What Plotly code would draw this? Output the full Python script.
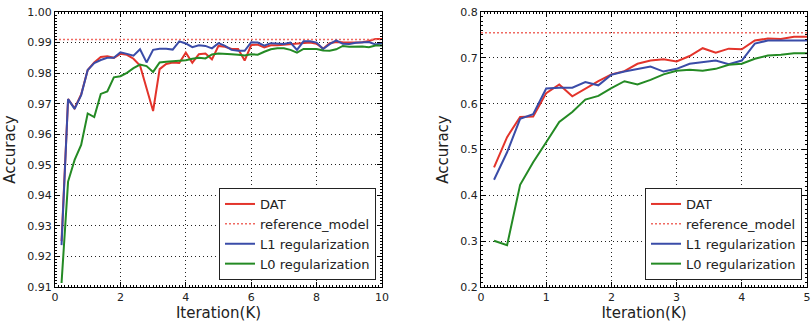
import plotly.graph_objects as go

# ---------------- data ----------------
iters_left = [round(0.2 * i, 1) for i in range(1, 51)]
dat_left = [0.925, 0.9715, 0.9685, 0.973, 0.981, 0.9835, 0.9853, 0.9855, 0.985, 0.9863,
            0.986, 0.9847, 0.9825, 0.9748, 0.9676, 0.9813, 0.983, 0.9835, 0.9833, 0.9867,
            0.9834, 0.9862, 0.9864, 0.9845, 0.9889, 0.9886, 0.9879, 0.9879, 0.9841, 0.9892,
            0.9893, 0.9884, 0.9891, 0.9891, 0.9893, 0.9896, 0.9896, 0.9898, 0.99, 0.9896,
            0.988, 0.9898, 0.9902, 0.9901, 0.99, 0.99, 0.9901, 0.9905, 0.9912, 0.9912]
l1_left = [0.9237, 0.9715, 0.9683, 0.9728, 0.981, 0.9833, 0.9843, 0.985, 0.985, 0.9868,
           0.9863, 0.9857, 0.9878, 0.9835, 0.9876, 0.988, 0.988, 0.9877, 0.9904, 0.9897,
           0.9885, 0.9891, 0.9889, 0.9881, 0.9898, 0.9889, 0.9876, 0.9873, 0.9873, 0.9901,
           0.99, 0.989, 0.9898, 0.9897, 0.9895, 0.99, 0.9876, 0.9904, 0.9904, 0.99,
           0.9879, 0.9895, 0.9907, 0.9896, 0.9895, 0.9899, 0.99, 0.9902, 0.9894, 0.9898]
l0_left = [0.9113, 0.9445, 0.9516, 0.9565, 0.9668, 0.9656, 0.9732, 0.974, 0.9786, 0.979,
           0.9801, 0.9816, 0.9828, 0.9823, 0.9804, 0.9835, 0.9837, 0.9838, 0.9839, 0.9842,
           0.9847, 0.985, 0.9848, 0.9861, 0.9864, 0.9864, 0.9862, 0.986, 0.9858, 0.9862,
           0.986, 0.987, 0.9878, 0.9881, 0.9881, 0.9876, 0.9867, 0.9879, 0.988, 0.9879,
           0.9874, 0.9873, 0.9878, 0.9889, 0.9886, 0.9887, 0.9887, 0.9885, 0.989, 0.989]
ref_left = 0.991
ref_left_x = [0, 10]

iters_right = [round(0.2 * i, 1) for i in range(1, 26)]
dat_right = [0.461, 0.527, 0.571, 0.572, 0.623, 0.642, 0.616, 0.633, 0.649, 0.664,
             0.671, 0.687, 0.694, 0.697, 0.692, 0.704, 0.721, 0.711, 0.720, 0.7185,
             0.738, 0.742, 0.741, 0.746, 0.746]
l1_right = [0.434, 0.494, 0.567, 0.577, 0.633, 0.635, 0.635, 0.647, 0.640, 0.663,
            0.670, 0.676, 0.681, 0.670, 0.676, 0.687, 0.691, 0.694, 0.686, 0.694,
            0.731, 0.738, 0.738, 0.738, 0.738]
l0_right = [0.301, 0.291, 0.423, 0.472, 0.516, 0.560, 0.582, 0.609, 0.617, 0.634,
            0.649, 0.642, 0.652, 0.664, 0.672, 0.674, 0.672, 0.676, 0.685, 0.687,
            0.698, 0.705, 0.707, 0.710, 0.710]
ref_right = 0.755
ref_right_x = [0, 5]

names = ["DAT", "reference_model", "L1 regularization", "L0 regularization"]
x_title = "Iteration(K)"
y_title = "Accuracy"

# ---------------- style ----------------
RED = "#e3342b"
REF = "#ef6a62"
BLUE = "#3a4ca8"
GREEN = "#248a24"
FONT = "DejaVu Sans"

fig = go.Figure()


def add_panel(xs, dat, ref, refx, l1, l0, xa, ya, leg):
    fig.add_trace(go.Scatter(x=xs, y=dat, mode="lines", name=names[0],
                             line=dict(color=RED, width=2), xaxis=xa, yaxis=ya, legend=leg))
    fig.add_trace(go.Scatter(x=refx, y=[ref, ref], mode="lines", name=names[1],
                             line=dict(color=REF, width=1.5, dash="2px,2px"),
                             xaxis=xa, yaxis=ya, legend=leg))
    fig.add_trace(go.Scatter(x=xs, y=l1, mode="lines", name=names[2],
                             line=dict(color=BLUE, width=2), xaxis=xa, yaxis=ya, legend=leg))
    fig.add_trace(go.Scatter(x=xs, y=l0, mode="lines", name=names[3],
                             line=dict(color=GREEN, width=2), xaxis=xa, yaxis=ya, legend=leg))


add_panel(iters_left, dat_left, ref_left, ref_left_x, l1_left, l0_left, "x", "y", "legend")
add_panel(iters_right, dat_right, ref_right, ref_right_x, l1_right, l0_right, "x2", "y2", "legend2")

axis_common = dict(
    showline=True, linecolor="black", linewidth=1, mirror="allticks",
    ticks="inside", ticklen=5, tickcolor="black", tickwidth=1,
    showgrid=True, gridcolor="#222", griddash="1px,3px", gridwidth=1,
    zeroline=False, automargin=False,
    tickfont=dict(family=FONT, size=11, color="#222"),
    title_font=dict(family=FONT, size=15, color="#222"),
)

ML, MR, MT, MB = 55, 4, 12, 37
PW = 811 - ML - MR
PH = 324 - MT - MB


def xd(px):
    return (px - ML) / PW


leg_y = (324 - MB - 280) / PH
LEG_FONT = 13

fig.update_layout(
    width=811, height=324,
    margin=dict(l=ML, r=MR, t=MT, b=MB, autoexpand=False),
    paper_bgcolor="white", plot_bgcolor="white",
    font=dict(family=FONT, color="#222"),
    xaxis=dict(axis_common, domain=[0, xd(382)], range=[0, 10], dtick=2,
               tick0=0, title=dict(text=x_title, standoff=4),
               minor=dict(ticks="inside", ticklen=2, dtick=0.1, tickcolor="black", showgrid=False)),
    yaxis=dict(axis_common, domain=[0, 1], range=[0.91, 1.0], dtick=0.01, tick0=0.91,
               tickformat=".2f", title=dict(text=y_title, standoff=8),
               minor=dict(ticks="inside", ticklen=2, dtick=0.001, tickcolor="black", showgrid=False)),
    xaxis2=dict(axis_common, domain=[xd(481), 1], range=[0, 5], dtick=1,
                tick0=0, anchor="y2", title=dict(text=x_title, standoff=4),
                minor=dict(ticks="inside", ticklen=2, dtick=0.05, tickcolor="black", showgrid=False)),
    yaxis2=dict(axis_common, domain=[0, 1], range=[0.2, 0.8], dtick=0.1, tick0=0.2,
                tickformat=".1f", anchor="x2", title=dict(text=y_title, standoff=8),
                minor=dict(ticks="inside", ticklen=2, dtick=0.01, tickcolor="black", showgrid=False)),
    legend=dict(x=xd(376), y=leg_y, xanchor="right", yanchor="bottom",
                bgcolor="white", bordercolor="#222", borderwidth=1,
                font=dict(family=FONT, size=LEG_FONT, color="#222"), tracegroupgap=0),
    legend2=dict(x=xd(802), y=leg_y, xanchor="right", yanchor="bottom",
                 bgcolor="white", bordercolor="#222", borderwidth=1,
                 font=dict(family=FONT, size=LEG_FONT, color="#222"), tracegroupgap=0),
    showlegend=True,
)

fig.write_html(
    "out.html",
    config={"displayModeBar": False},
    post_script="document.body.style.margin='0';document.body.style.overflow='hidden';",
)
